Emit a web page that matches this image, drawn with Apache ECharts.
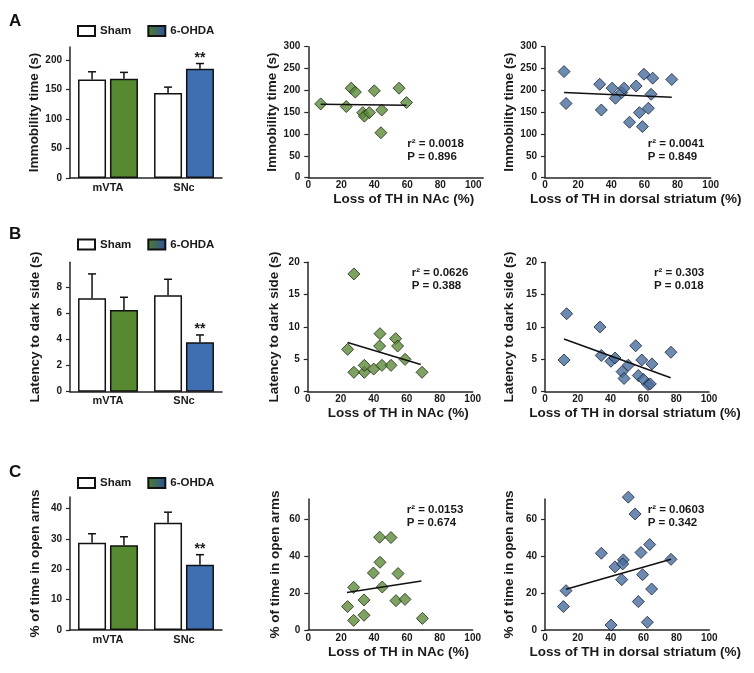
<!DOCTYPE html>
<html><head><meta charset="utf-8">
<script src="https://cdn.jsdelivr.net/npm/echarts@6/dist/echarts.min.js"></script>
<style>html,body{margin:0;padding:0;background:#fff}#c{width:754px;height:673px}</style>
</head><body><div id="c"></div><script>
// ---------------- DATA ----------------
const categories = ['mVTA', 'SNc'];
const groupNames = ['Sham', '6-OHDA'];
const panelLetters = ['A', 'B', 'C'];

const yNames = ['Immobility time (s)', 'Latency to dark side (s)', '% of time in open arms'];
const xNameNAc = 'Loss of TH in NAc (%)';
const xNameDS = 'Loss of TH in dorsal striatum (%)';

// Row A: immobility
const shamA = [167, 144];   const shamAErr = [13, 10];
const ohdaA = [168, 185];   const ohdaAErr = [11, 9];
const sigA = ['', '**'];
const nacAX = [7.5, 23, 26, 28.5, 33, 34, 37, 40, 44.5, 44, 55, 59.5];
const nacAY = [169, 163, 205, 196, 149, 141, 149, 199, 155, 103, 205, 172];
const nacAFit = [[7.5, 168], [59.5, 166]];
const dsAX = [11.5, 12.7, 33, 34, 40.5, 42.5, 46.3, 47.7, 51, 55, 57, 58.8, 59.7, 62.4, 64, 65, 76.5];
const dsAY = [243, 170, 214, 155, 205, 182, 195, 205, 127, 210, 149, 117, 237, 159, 191, 228, 225];
const dsAFit = [[11.5, 195], [76.5, 184]];
const statsA = [['r\u00b2 = 0.0018', 'P = 0.896'], ['r\u00b2 = 0.0041', 'P = 0.849']];

// Row B: latency
const shamB = [7.16, 7.39];  const shamBErr = [1.87, 1.23];
const ohdaB = [6.27, 3.79];  const ohdaBErr = [0.97, 0.56];
const sigB = ['', '**'];
const nacBX = [28, 24.2, 28, 34.3, 34.3, 40, 43.8, 43.6, 45, 50.5, 53.3, 54.5, 59, 69.3];
const nacBY = [18.2, 6.55, 3.0, 3.0, 4.07, 3.5, 8.97, 7.06, 4.07, 4.07, 8.2, 7.06, 5.0, 3.0];
const nacBFit = [[24.2, 7.6], [68.5, 4.2]];
const dsBX = [13.2, 11.6, 33.5, 34.3, 40.2, 42.7, 50.8, 47, 48.2, 55.3, 59, 56.9, 60, 62.8, 64.2, 65.2, 76.8];
const dsBY = [12.05, 4.9, 10, 5.6, 4.7, 5.2, 4.1, 3.1, 2.05, 7.1, 4.9, 2.5, 1.9, 1.1, 1.2, 4.3, 6.1];
const dsBFit = [[11.6, 8.15], [76.6, 2.15]];
const statsB = [['r\u00b2 = 0.0626', 'P = 0.388'], ['r\u00b2 = 0.303', 'P = 0.018']];

// Row C: open arms
const shamC = [28.7, 35.3];  const shamCErr = [3.0, 3.5];
const ohdaC = [27.9, 21.5];  const ohdaCErr = [2.8, 3.3];
const sigC = ['', '**'];
const nacCX = [23.9, 27.6, 27.6, 33.9, 33.9, 39.6, 43.4, 43.6, 45, 50.3, 54.6, 53.3, 58.8, 69.4];
const nacCY = [12.7, 23.1, 5.2, 8.0, 16.3, 30.9, 50.3, 36.7, 23.3, 50.1, 30.6, 15.9, 16.6, 6.3];
const nacCFit = [[23.5, 20.3], [68.8, 26.6]];
const dsCX = [11.2, 12.8, 34.3, 40.2, 42.6, 46.7, 47.7, 47.3, 50.7, 54.8, 56.8, 58.4, 59.4, 62.3, 63.7, 64.9, 76.7];
const dsCY = [12.7, 21.3, 41.6, 2.7, 34.2, 27.3, 38, 35.8, 72, 62.9, 15.4, 42, 30, 4.2, 46.3, 22.2, 38.3];
const dsCFit = [[12.8, 22.1], [76.7, 38.3]];
const statsC = [['r\u00b2 = 0.0153', 'P = 0.674'], ['r\u00b2 = 0.0603', 'P = 0.342']];

// Axis ticks
const barTicksA = [0, 50, 100, 150, 200];
const barTicksB = [0, 2, 4, 6, 8];
const barTicksC = [0, 10, 20, 30, 40];
const scTicksA = [0, 50, 100, 150, 200, 250, 300];
const scTicksB = [0, 5, 10, 15, 20];
const scTicksC = [0, 20, 40, 60];
const xTicks = [0, 20, 40, 60, 80, 100];

// ---------------- STYLE / LAYOUT ----------------
const FONT = '"Liberation Sans", Arial, Helvetica, sans-serif';
const TXT = '#1a1a1a';
const AX = '#262626';
const GREEN_BAR = '#578a30', BLUE_BAR = '#3f6fb0';
const GREEN_PT = '#5d8b3b', BLUE_PT = '#486d9d';
const BAR_W = 28, BAR_GAP = 0.14;

const rows = [
  {sham: shamA, shamErr: shamAErr, ohda: ohdaA, ohdaErr: ohdaAErr, sig: sigA,
   nacX: nacAX, nacY: nacAY, nacFit: nacAFit, dsX: dsAX, dsY: dsAY, dsFit: dsAFit, stats: statsA,
   barTicks: barTicksA, barMax: 222, scTicks: scTicksA, scMax: 300, nacXMax: 106,
   barGrid: {left: 70, top: 47, width: 152, height: 131},
   midGrid: {left: 308.3, top: 46.7, width: 174.9, height: 131},
   rightGrid: {left: 545, top: 46.7, width: 165.7, height: 131},
   legendTop: 25, letterY: 21, statY: [143.5, 157.3], statX: [407.3, 647.7]},
  {sham: shamB, shamErr: shamBErr, ohda: ohdaB, ohdaErr: ohdaBErr, sig: sigB,
   nacX: nacBX, nacY: nacBY, nacFit: nacBFit, dsX: dsBX, dsY: dsBY, dsFit: dsBFit, stats: statsB,
   barTicks: barTicksB, barMax: 9.92, scTicks: scTicksB, scMax: 20, nacXMax: 100,
   barGrid: {left: 70, top: 262.3, width: 152, height: 129.4},
   midGrid: {left: 307.7, top: 262.3, width: 165, height: 129.4},
   rightGrid: {left: 545, top: 262.3, width: 164, height: 129.4},
   legendTop: 238.5, letterY: 234, statY: [272.8, 286], statX: [411.7, 654]},
  {sham: shamC, shamErr: shamCErr, ohda: ohdaC, ohdaErr: ohdaCErr, sig: sigC,
   nacX: nacCX, nacY: nacCY, nacFit: nacCFit, dsX: dsCX, dsY: dsCY, dsFit: dsCFit, stats: statsC,
   barTicks: barTicksC, barMax: 43.8, scTicks: scTicksC, scMax: 71, nacXMax: 100,
   barGrid: {left: 70, top: 497, width: 152, height: 133},
   midGrid: {left: 308.3, top: 499, width: 164.4, height: 131},
   rightGrid: {left: 545, top: 499, width: 164.3, height: 131},
   legendTop: 477, letterY: 472, statY: [509.5, 523], statX: [406.7, 647.7]}
];

const grid = [], xAxis = [], yAxis = [], series = [], legend = [], graphic = [];

function valueYAxis(gi, name, max, ticks, gap) {
  return {type: 'value', gridIndex: gi, min: 0, max: max,
    name: name, nameLocation: 'middle', nameGap: gap,
    nameTextStyle: {fontFamily: FONT, fontSize: 13.5, fontWeight: 'bold', color: TXT},
    axisLine: {show: true, lineStyle: {color: AX, width: 1.5}},
    axisTick: {show: true, length: 4, lineStyle: {color: AX, width: 1.2}, customValues: ticks},
    axisLabel: {fontFamily: FONT, fontSize: 10, fontWeight: 'bold', color: TXT, margin: 8, customValues: ticks},
    splitLine: {show: false}};
}
function valueXAxis(gi, name, max) {
  return {type: 'value', gridIndex: gi, min: 0, max: max,
    name: name, nameLocation: 'middle', nameGap: 15,
    nameTextStyle: {fontFamily: FONT, fontSize: 13.5, fontWeight: 'bold', color: TXT, padding: [0, 0, 0, 16]},
    axisLine: {show: true, lineStyle: {color: AX, width: 1.5}},
    axisTick: {show: false, customValues: xTicks},
    axisLabel: {fontFamily: FONT, fontSize: 10, fontWeight: 'bold', color: TXT, margin: 3, customValues: xTicks},
    splitLine: {show: false}};
}

const off = BAR_W * (1 + BAR_GAP) / 2;
function errSeries(gi, means, errs, sig, sign) {
  return {type: 'custom', xAxisIndex: gi, yAxisIndex: gi, z: 5,
    data: means.map((m, i) => [i, m, errs[i]]),
    encode: {x: 0, y: 1},
    renderItem: function (params, api) {
      const i = api.value(0), m = api.value(1), e = api.value(2);
      const p0 = api.coord([i, m]), p1 = api.coord([i, m + e]);
      const x = p0[0] + sign * off;
      const ch = [
        {type: 'line', shape: {x1: x, y1: p0[1], x2: x, y2: p1[1]}, style: {stroke: '#111', lineWidth: 1.5}},
        {type: 'line', shape: {x1: x - 4, y1: p1[1], x2: x + 4, y2: p1[1]}, style: {stroke: '#111', lineWidth: 1.5}}
      ];
      const s = sig[params.dataIndex];
      if (s) ch.push({type: 'text', x: x, y: p1[1] + 1.5,
        style: {text: s, textAlign: 'center', textVerticalAlign: 'bottom',
          font: 'bold 14px ' + FONT, fill: TXT}});
      return {type: 'group', children: ch};
    }};
}

rows.forEach((r, k) => {
  const gb = k * 3, gm = k * 3 + 1, gr = k * 3 + 2;
  grid.push(r.barGrid, r.midGrid, r.rightGrid);

  // bar panel
  xAxis.push({type: 'category', gridIndex: gb, data: categories,
    axisLine: {show: true, lineStyle: {color: AX, width: 1.5}},
    axisTick: {show: false},
    axisLabel: {fontFamily: FONT, fontSize: 11, fontWeight: 'bold', color: TXT, margin: 4}});
  yAxis.push(valueYAxis(gb, yNames[k], r.barMax, r.barTicks, 28));
  series.push({type: 'bar', name: groupNames[0], xAxisIndex: gb, yAxisIndex: gb,
    barWidth: BAR_W, barGap: (BAR_GAP * 100) + '%',
    itemStyle: {color: '#ffffff', borderColor: '#111', borderWidth: 1.5},
    data: r.sham});
  series.push({type: 'bar', name: groupNames[1], xAxisIndex: gb, yAxisIndex: gb,
    barWidth: BAR_W, barGap: (BAR_GAP * 100) + '%',
    itemStyle: {color: new echarts.graphic.LinearGradient(0, 0, 1, 0,
      [{offset: 0, color: '#4f7f2a'}, {offset: 1, color: '#2c4f9e'}]), borderColor: '#111', borderWidth: 1.5},
    data: r.ohda.map((v, i) => ({value: v, itemStyle: {color: i === 0 ? GREEN_BAR : BLUE_BAR}}))});
  series.push(errSeries(gb, r.sham, r.shamErr, ['', ''], -1));
  series.push(errSeries(gb, r.ohda, r.ohdaErr, r.sig, 1));

  legend.push({left: 77, top: r.legendTop, padding: 0, itemWidth: 17, itemHeight: 10, itemGap: 16,
    icon: 'rect', selectedMode: false, data: groupNames,
    textStyle: {fontFamily: FONT, fontSize: 11.5, fontWeight: 'bold', color: TXT}});

  // middle scatter (NAc)
  xAxis.push(valueXAxis(gm, xNameNAc, r.nacXMax));
  yAxis.push(valueYAxis(gm, yNames[k], r.scMax, r.scTicks, 26));
  series.push({type: 'line', xAxisIndex: gm, yAxisIndex: gm, data: r.nacFit, symbol: 'none',
    lineStyle: {color: '#111', width: 1.5}, silent: true});
  series.push({type: 'scatter', xAxisIndex: gm, yAxisIndex: gm, clip: false,
    symbol: 'diamond', symbolSize: 12,
    itemStyle: {color: GREEN_PT, borderColor: '#1e2a14', borderWidth: 1},
    data: r.nacX.map((x, i) => [x, r.nacY[i]])});

  // right scatter (dorsal striatum)
  xAxis.push(valueXAxis(gr, xNameDS, 100));
  yAxis.push(valueYAxis(gr, yNames[k], r.scMax, r.scTicks, 28.5));
  series.push({type: 'line', xAxisIndex: gr, yAxisIndex: gr, data: r.dsFit, symbol: 'none',
    lineStyle: {color: '#111', width: 1.5}, silent: true});
  series.push({type: 'scatter', xAxisIndex: gr, yAxisIndex: gr, clip: false,
    symbol: 'diamond', symbolSize: 12,
    itemStyle: {color: BLUE_PT, borderColor: '#17233a', borderWidth: 1},
    data: r.dsX.map((x, i) => [x, r.dsY[i]])});

  // panel letter
  graphic.push({type: 'text', x: 9, y: r.letterY,
    style: {text: panelLetters[k], font: 'bold 17px ' + FONT, fill: '#111', textVerticalAlign: 'middle'}});
  // stats text
  r.stats.forEach((st, j) => {
    st.forEach((line, n) => {
      graphic.push({type: 'text', x: r.statX[j], y: r.statY[n],
        style: {text: line, font: 'bold 11.5px ' + FONT, fill: TXT, textVerticalAlign: 'middle'}});
    });
  });
});

const chart = echarts.init(document.getElementById('c'), null, {renderer: 'canvas'});
chart.setOption({animation: false, backgroundColor: '#ffffff',
  grid, xAxis, yAxis, series, legend, graphic});
</script></body></html>
